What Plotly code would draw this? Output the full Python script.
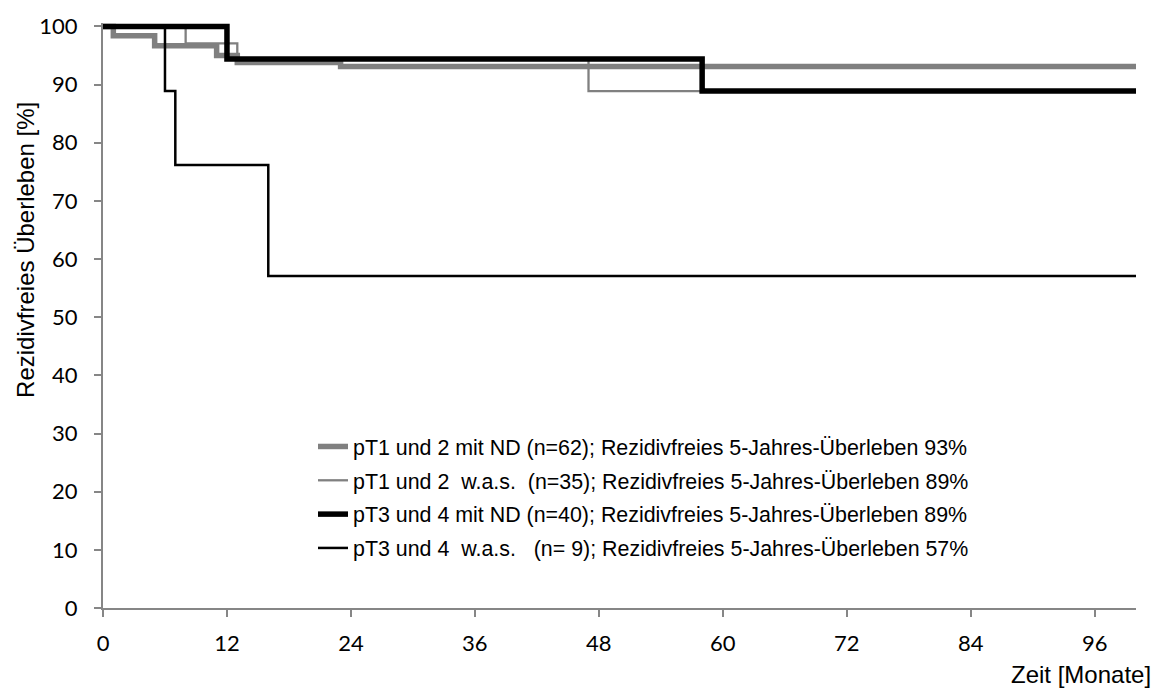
import plotly.graph_objects as go

# Data
t_pt12_nd = [0, 1, 5, 11, 13, 23, 100]
s_pt12_nd = [100, 98.4, 96.7, 95.0, 93.8, 93.1, 93.1]

t_pt12_was = [0, 8, 13, 47, 100]
s_pt12_was = [100, 97.1, 94.3, 88.9, 88.9]

t_pt34_nd = [0, 12, 58, 100]
s_pt34_nd = [100, 94.4, 88.9, 88.9]

t_pt34_was = [0, 6, 7, 16, 100]
s_pt34_was = [100, 88.9, 76.2, 57.1, 57.1]

names = [
    "pT1 und 2 mit ND (n=62); Rezidivfreies 5-Jahres-Überleben 93%",
    "pT1 und 2\u00a0\u00a0w.a.s.\u00a0\u00a0(n=35); Rezidivfreies 5-Jahres-Überleben 89%",
    "pT3 und 4 mit ND (n=40); Rezidivfreies 5-Jahres-Überleben 89%",
    "pT3 und 4\u00a0\u00a0w.a.s.\u00a0\u00a0\u00a0(n=\u00a09); Rezidivfreies 5-Jahres-Überleben 57%",
]
x_ticks = [0, 12, 24, 36, 48, 60, 72, 84, 96]
y_ticks = [0, 10, 20, 30, 40, 50, 60, 70, 80, 90, 100]

series = [
    (t_pt12_nd, s_pt12_nd, "#808080", 5.5),
    (t_pt12_was, s_pt12_was, "#808080", 2.3),
    (t_pt34_nd, s_pt34_nd, "#000000", 5.5),
    (t_pt34_was, s_pt34_was, "#000000", 2.5),
]

fig = go.Figure()
for i, (t, s, c, w) in enumerate(series):
    fig.add_trace(go.Scatter(
        x=t, y=s, mode="lines", line=dict(shape="hv", color=c, width=w),
        name=names[i], legendgroup=f"g{i}",
    ))

axis_color = "#868686"
tick_font = dict(family="Lato, Open Sans, sans-serif", size=22, color="#000000")

fig.update_layout(
    width=1172, height=700,
    margin=dict(l=103, r=36, t=15, b=92),
    paper_bgcolor="white", plot_bgcolor="white",
    showlegend=True,
    legend=dict(
        x=(313 - 103) / 1033, y=0.311, xanchor="left", yanchor="top",
        font=dict(family="Liberation Sans, Arial, sans-serif", size=21.4, color="#000000"),
        bgcolor="rgba(0,0,0,0)", tracegroupgap=3, traceorder="grouped",
    ),
    xaxis=dict(
        range=[0, 100], tickvals=x_ticks, ticktext=[str(v) for v in x_ticks],
        showgrid=False, zeroline=False, showline=True, linecolor=axis_color, linewidth=2,
        ticks="outside", ticklen=7, tickwidth=2, tickcolor=axis_color,
        tickfont=tick_font, ticklabelstandoff=8,
    ),
    yaxis=dict(
        range=[0, 100.6], tickvals=y_ticks, ticktext=[str(v) for v in y_ticks],
        showgrid=False, zeroline=False, showline=True, linecolor=axis_color, linewidth=2,
        ticks="outside", ticklen=7, tickwidth=2, tickcolor=axis_color,
        tickfont=tick_font, ticklabelstandoff=12,
    ),
    annotations=[
        dict(text="Rezidivfreies Überleben [%]", textangle=-90, xref="paper", yref="paper",
             x=-103/1033 + 26/1033, y=(608-245)/593, xanchor="center", yanchor="middle",
             showarrow=False,
             font=dict(family="Liberation Sans, Arial, sans-serif", size=24, color="#000000")),
        dict(text="Zeit [Monate]", xref="paper", yref="paper",
             x=(1153-103)/1033, y=-(675-608)/593, xanchor="right", yanchor="middle",
             showarrow=False,
             font=dict(family="Liberation Sans, Arial, sans-serif", size=24, color="#000000")),
    ],
)

fig.write_html("out.html")
